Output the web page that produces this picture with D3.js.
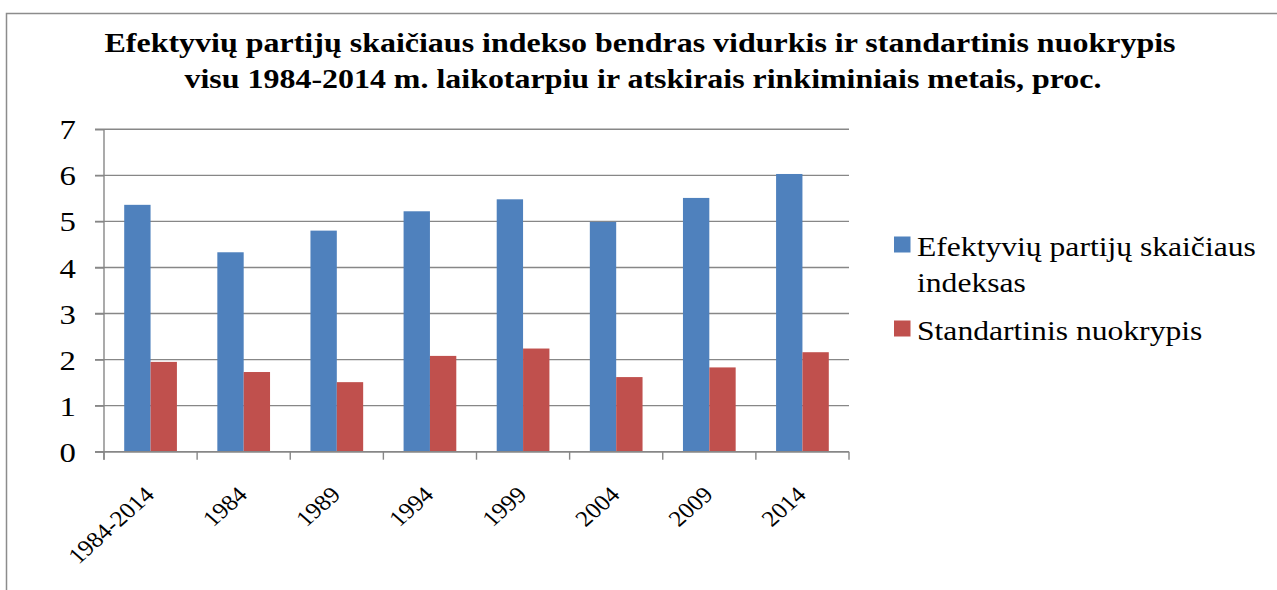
<!DOCTYPE html>
<html>
<head>
<meta charset="utf-8">
<script src="https://cdn.jsdelivr.net/npm/d3@7"></script>
<style>
  body { margin: 0; background: #fff; }
  text { font-family: "Liberation Serif", "Times New Roman", serif; fill: #000; }
</style>
</head>
<body>
<div id="chart"></div>
<script>
const categories = ["1984-2014", "1984", "1989", "1994", "1999", "2004", "2009", "2014"];
const seriesNames = ["Efektyvių partijų skaičiaus indeksas", "Standartinis nuokrypis"];
const enpValues = [5.36, 4.33, 4.80, 5.22, 5.48, 4.99, 5.51, 6.03];
const sdValues = [1.95, 1.73, 1.51, 2.08, 2.24, 1.62, 1.83, 2.16];
const yTicks = [0, 1, 2, 3, 4, 5, 6, 7];
const titleLines = [
  "Efektyvių partijų skaičiaus indekso bendras vidurkis ir standartinis nuokrypis",
  "visu 1984-2014 m. laikotarpiu ir atskirais rinkiminiais metais, proc."
];
const colors = ["#4f81bd", "#c0504d"];

const width = 1277;
const height = 590;
const plot = { left: 104, right: 849, top: 129.3, bottom: 451.7 };
const gridColor = "#878787";
const stretch = 1.18; // the original text is a bit wide

const svg = d3.select("#chart")
  .append("svg")
  .attr("width", width)
  .attr("height", height);

// outer chart border (runs off the bottom and right)
svg.append("rect")
  .attr("x", 6.5).attr("y", 13.5)
  .attr("width", 1400).attr("height", 800)
  .attr("fill", "none")
  .attr("stroke", "#8c8c8c")
  .attr("stroke-width", 1.5);

// title
svg.append("text")
  .attr("x", 640).attr("y", 51.7)
  .attr("text-anchor", "middle")
  .attr("font-size", 27.5).attr("font-weight", "bold")
  .attr("textLength", 1071).attr("lengthAdjust", "spacingAndGlyphs")
  .text(titleLines[0]);
svg.append("text")
  .attr("x", 643).attr("y", 87.7)
  .attr("text-anchor", "middle")
  .attr("font-size", 27.5).attr("font-weight", "bold")
  .attr("textLength", 917).attr("lengthAdjust", "spacingAndGlyphs")
  .text(titleLines[1]);

const y = d3.scaleLinear()
  .domain([0, 7])
  .range([plot.bottom, plot.top]);

const x0 = d3.scaleBand()
  .domain(categories)
  .range([plot.left, plot.right])
  .paddingInner(0.434)
  .paddingOuter(0.217);

const x1 = d3.scaleBand()
  .domain(seriesNames)
  .range([0, x0.bandwidth()]);

// category slots without padding, for ticks and labels
const xSlot = d3.scaleBand()
  .domain(categories)
  .range([plot.left, plot.right]);

// gridlines
svg.append("g")
  .selectAll("line")
  .data(yTicks)
  .join("line")
  .attr("x1", plot.left - 9).attr("x2", plot.right)
  .attr("y1", d => y(d)).attr("y2", d => y(d))
  .attr("stroke", gridColor)
  .attr("stroke-width", 1.4);

// y axis
const yAxis = d3.axisLeft(y)
  .tickValues(yTicks)
  .tickFormat(d3.format("d"))
  .tickSize(9)
  .tickPadding(19);
const yG = svg.append("g")
  .attr("transform", `translate(${plot.left},0)`)
  .call(yAxis);
yG.select(".domain").remove();
yG.selectAll(".tick line").attr("stroke", gridColor).attr("stroke-width", 1.4);
yG.selectAll(".tick text")
  .attr("x", 0)
  .attr("transform", `translate(-28,0) scale(1.17,1)`)
  .attr("font-size", 28)
  .attr("font-family", null)
  .attr("dy", "0.34em");

// bars
const rows = categories.map((c, i) => ({ cat: c, values: [enpValues[i], sdValues[i]] }));
svg.append("g")
  .selectAll("g")
  .data(rows)
  .join("g")
  .attr("transform", d => `translate(${x0(d.cat)},0)`)
  .selectAll("rect")
  .data(d => d.values.map((v, j) => ({ key: seriesNames[j], value: v, j })))
  .join("rect")
  .attr("x", d => x1(d.key))
  .attr("width", x1.bandwidth())
  .attr("y", d => y(d.value))
  .attr("height", d => y(0) - y(d.value))
  .attr("fill", d => colors[d.j]);

// x axis line and boundary ticks
svg.append("line")
  .attr("x1", plot.left).attr("x2", plot.right)
  .attr("y1", y(0)).attr("y2", y(0))
  .attr("stroke", gridColor).attr("stroke-width", 1.4);
svg.append("line")
  .attr("x1", plot.left).attr("x2", plot.left)
  .attr("y1", y(7)).attr("y2", y(0) + 8)
  .attr("stroke", gridColor).attr("stroke-width", 1.4);
const bounds = categories.map(c => xSlot(c)).concat([xSlot(categories[categories.length - 1]) + xSlot.step()]);
svg.append("g")
  .selectAll("line")
  .data(bounds)
  .join("line")
  .attr("x1", d => d).attr("x2", d => d)
  .attr("y1", y(0)).attr("y2", y(0) + 8)
  .attr("stroke", gridColor).attr("stroke-width", 1.4);

// x labels, rotated
svg.append("g")
  .selectAll("text")
  .data(categories)
  .join("text")
  .attr("transform", d => `translate(${xSlot(d) + xSlot.bandwidth() / 2 + 5},496) scale(1.12,1) rotate(-45)`)
  .attr("text-anchor", "end")
  .attr("font-size", 22.5)
  .text(d => d);

// legend
const legend = svg.append("g");
const legendItems = [
  { lines: ["Efektyvių partijų skaičiaus", "indeksas"], y: 256, color: colors[0] },
  { lines: ["Standartinis nuokrypis"], y: 340, color: colors[1] }
];
legendItems.forEach(item => {
  legend.append("rect")
    .attr("x", 894).attr("y", item.y - 19.5)
    .attr("width", 16.5).attr("height", 16)
    .attr("fill", item.color);
  const t = legend.append("text")
    .attr("transform", `translate(917,${item.y}) scale(${stretch},1)`)
    .attr("font-size", 26.8);
  item.lines.forEach((l, i) => {
    t.append("tspan")
      .attr("x", 0)
      .attr("dy", i === 0 ? 0 : 35.7)
      .text(l);
  });
});
</script>
</body>
</html>
